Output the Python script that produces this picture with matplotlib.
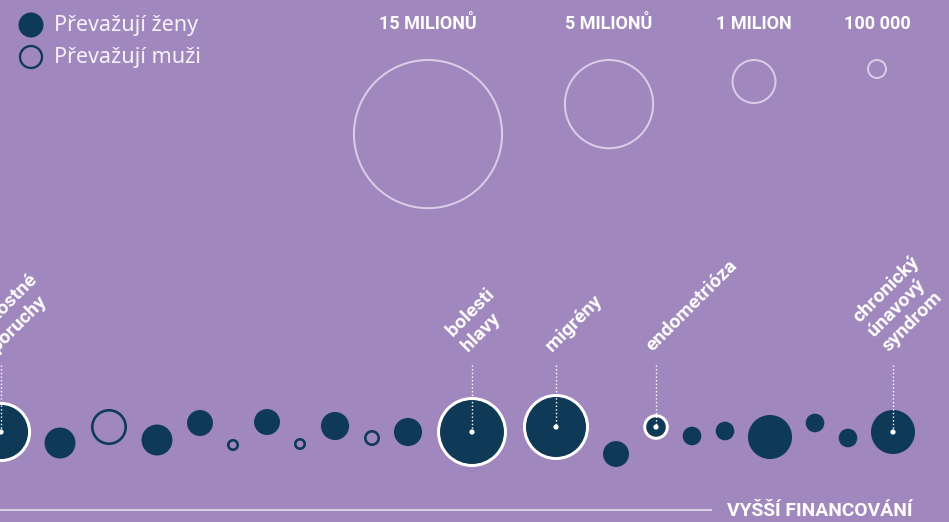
import numpy as np
import matplotlib
matplotlib.use("Agg")
import matplotlib.pyplot as plt
from matplotlib.patches import Circle

# ---------------- data ----------------
# position along the funding axis (left = lower funding), and swarm offset
funding = [1, 60, 109, 157, 200, 233, 267, 300, 335, 372, 408, 472, 556, 616,
           656, 692, 725, 770, 815, 848, 893]
swarm = [0, 11, -5, 8, -9, 13, -10, 12, -6, 6, 0, 0, -5, 22, -5, 4, -1, 5, -9, 6, 0]
# number of patients (millions)
patients = [2.0, 0.38, 0.57, 0.38, 0.23, 0.01, 0.23, 0.01, 0.29, 0.043, 0.29,
            2.83, 2.48, 0.23, 0.22, 0.078, 0.078, 0.95, 0.078, 0.078, 0.95]
# True = women predominate, False = men predominate
women = [True, True, False, True, True, False, True, False, True, False, True,
         True, True, True, True, True, True, True, True, True, True]
labels = {0: "    kostné\nporuchy", 11: "bolesti\nhlavy", 12: "migrény",
          14: "endometrióza", 20: "chronický\núnavový\nsyndrom"}
highlighted = [0, 11, 12, 14]

size_legend_values = [15, 5, 1, 0.1]
size_legend_labels = ["15 MILIONŮ", "5 MILIONŮ", "1 MILION", "100 000"]
size_legend_x = [428, 609, 754, 877]

legend_labels = ["Převažují ženy", "Převažují muži"]
axis_label = "VYŠŠÍ FINANCOVÁNÍ"

# ---------------- style ----------------
BG = "#a087bd"
DARK = "#0f3a57"
LIGHT = "#d9cde8"
WHITE = "#ffffff"
BASE_Y = 432
PX = 0.72  # points per pixel at dpi 100


def radius(v):
    return 18.3 * np.sqrt(v) + 4.2


fig = plt.figure(figsize=(9.49, 5.22), dpi=100, facecolor=BG)
ax = fig.add_axes([0, 0, 1, 1])
ax.set_facecolor(BG)
ax.set_xlim(0, 949)
ax.set_ylim(522, 0)
ax.axis("off")

# size legend
for v, lab, x in zip(size_legend_values, size_legend_labels, size_legend_x):
    r = radius(v)
    ax.add_patch(Circle((x, 59 + r), r - 1, facecolor="none", edgecolor=LIGHT,
                        lw=2 * PX))
    ax.text(x, 24, lab, ha="center", va="center", color=WHITE,
            fontsize=13, fontweight="bold", family="Roboto")

# colour legend
ax.add_patch(Circle((31, 25), 12.5, facecolor=DARK, edgecolor="none"))
ax.add_patch(Circle((31, 57), 11, facecolor="none", edgecolor=DARK, lw=2.3 * PX))
ax.text(54, 25, legend_labels[0], ha="left", va="center", color="#f6f2fa",
        fontsize=15.5, family="Noto Sans")
ax.text(54, 57, legend_labels[1], ha="left", va="center", color="#f6f2fa",
        fontsize=15.5, family="Noto Sans")

# bubbles
for i, (x, dy, v, w) in enumerate(zip(funding, swarm, patients, women)):
    y = BASE_Y + dy
    r = radius(v)
    if i in highlighted:
        ax.add_patch(Circle((x, y), r - 1.5, facecolor=DARK, edgecolor=WHITE,
                            lw=3 * PX, zorder=3))
    elif w:
        ax.add_patch(Circle((x, y), r, facecolor=DARK, edgecolor="none", zorder=3))
    else:
        ax.add_patch(Circle((x, y), r - 1.3, facecolor="none", edgecolor=DARK,
                            lw=2.6 * PX, zorder=3))

# annotations
for i, txt in labels.items():
    x = funding[i]
    y = BASE_Y + swarm[i]
    ax.plot([x, x], [365, y], color=WHITE, lw=1.4 * PX,
            linestyle=(0, (1, 1.6)), zorder=4)
    ax.add_patch(Circle((x, y), 2.6, facecolor=WHITE, edgecolor="none", zorder=5))
    ax.text(x - 1, 355, txt, rotation=45, rotation_mode="anchor",
            ha="left", va="bottom", multialignment="left", color=WHITE,
            fontsize=14, fontweight="bold", family="Roboto", linespacing=1.2)

# bottom axis
ax.plot([0, 712], [510, 510], color=LIGHT, lw=2 * PX, solid_capstyle="butt")
ax.text(913, 511, axis_label, ha="right", va="center", color=WHITE,
        fontsize=13.9, fontweight="bold", family="Roboto")

fig.savefig("out.png", dpi=100, facecolor=BG)
